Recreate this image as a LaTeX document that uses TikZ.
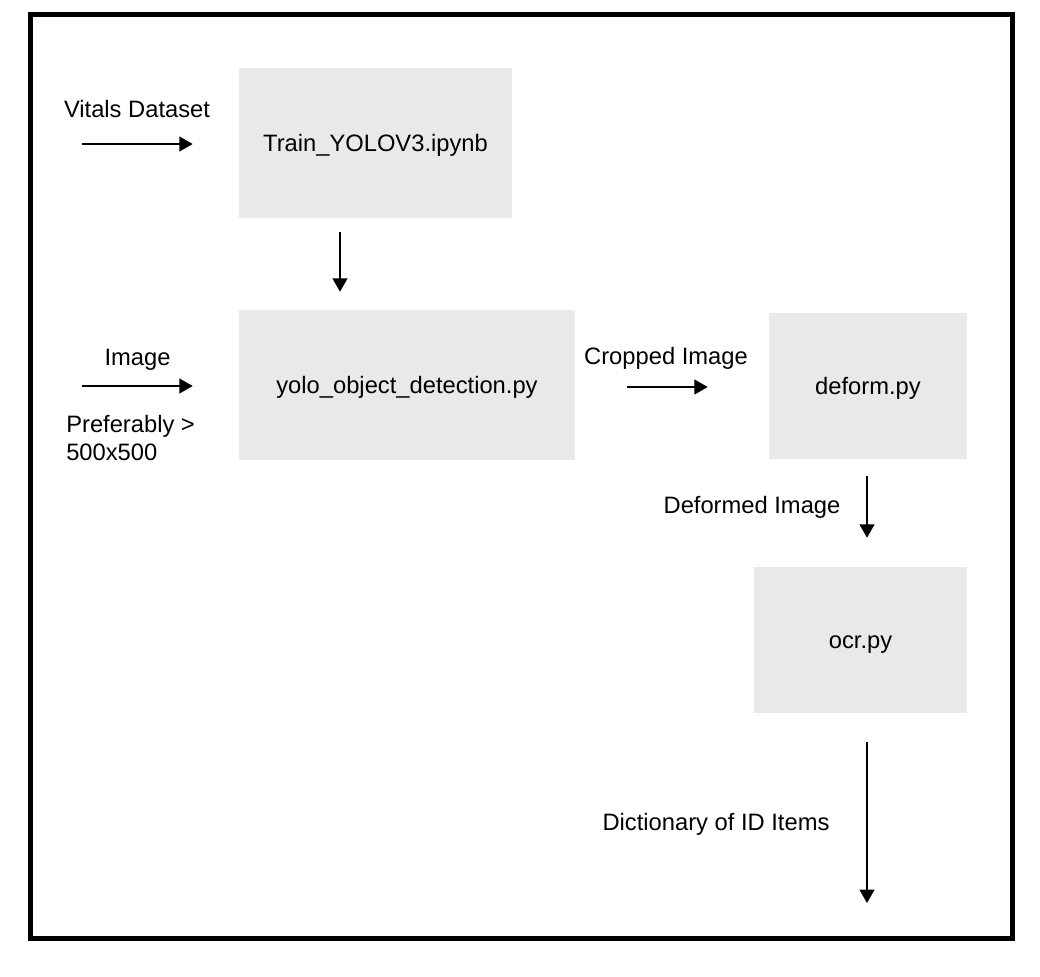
\documentclass[tikz,border=0pt]{standalone}
\usepackage{fontspec}
\setmainfont{Liberation Sans}
\usetikzlibrary{arrows.meta,positioning}
\definecolor{BoxClr}{rgb}{0.914,0.914,0.914}

\tikzset{
  boxnode/.style={fill=BoxClr,inner sep=0pt,text height=12.7pt,text depth=0pt,
    font=\fontsize{17.8}{21}\selectfont},
  lbl/.style={inner sep=0pt,anchor=base,font=\fontsize{17.8}{21}\selectfont},
  arr/.style={line width=1.5pt,-{Triangle[length=10pt,width=11pt]}}
}

\begin{document}
\begin{tikzpicture}[x=0.75pt,y=-0.75pt]
\useasboundingbox (0,0) rectangle (1040,976);
\draw[line width=3.75pt] (30,14) rectangle (1012,938);

\node[boxnode,minimum width=204.75pt,minimum height=112.5pt] (train) at (375.5,143) {Train\_YOLOV3.ipynb};
\node[boxnode,minimum width=252pt,minimum height=112.5pt] (yolo) at (407,385) {yolo\_object\_detection.py};
\node[boxnode,minimum width=148.5pt,minimum height=109.5pt] (deform) at (868,386) {deform.py};
\node[boxnode,minimum width=159.75pt,minimum height=109.5pt] (ocr) at (860.5,640) {ocr.py};

\node[lbl] (vitals) at (137,117) {Vitals Dataset};
\node[lbl] (image) at (137.5,365) {Image};
\node[lbl,anchor=base west,align=left] (pref) at (66,460) {Preferably >\\500x500};
\node[lbl] (cropped) at (666,364) {Cropped Image};
\node[lbl] (deformed) at (752,513) {Deformed Image};
\node[lbl] (dict) at (716,830) {Dictionary of ID Items};

\coordinate (vin) at (82,144);
\coordinate (iin) at (82,386);
\coordinate (tx) at (340,0);
\coordinate (dx) at (867,0);
\coordinate (out) at (867,903);

\draw[arr,shorten >=34.5pt] (vin) -- (vin -| train.west);
\draw[arr,shorten <=10.5pt,shorten >=13.5pt] (train.south -| tx) -- (yolo.north -| tx);
\draw[arr,shorten >=34.5pt] (iin) -- (iin -| yolo.west);
\draw[arr,shorten <=39pt,shorten >=45.75pt] (yolo.east |- 0,387) -- (deform.west |- 0,387);
\draw[arr,shorten <=12.75pt,shorten >=21.75pt] (deform.south -| dx) -- (ocr.north -| dx);
\draw[arr,shorten <=21.75pt] (ocr.south -| out) -- (out);

\end{tikzpicture}
\end{document}
